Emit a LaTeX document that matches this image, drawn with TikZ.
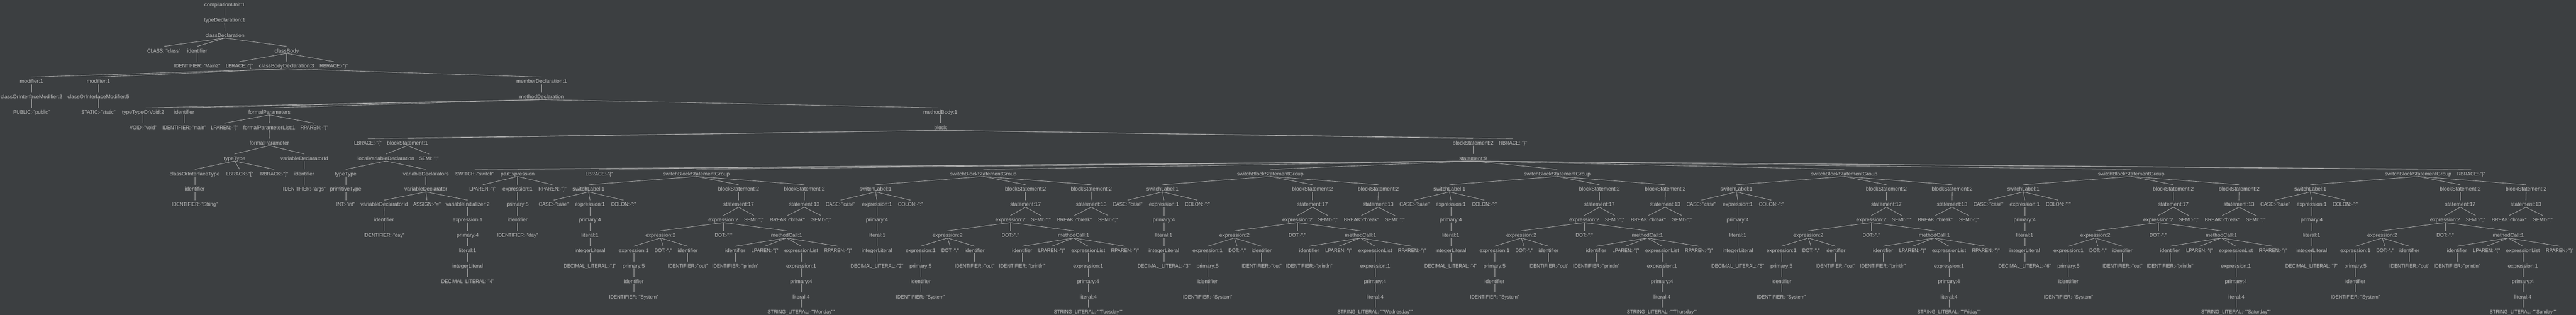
\documentclass[tikz,border=0pt]{standalone}
\usepackage{fontspec}
\setmainfont{Liberation Sans}
\newfontfamily\tokfont{Liberation Sans}[FakeStretch=0.91]
\definecolor{bgc}{HTML}{3C3F41}
\definecolor{labelc}{HTML}{BBBBBB}
\definecolor{linec}{HTML}{A9A9A9}
\begin{document}
\begin{tikzpicture}[x=1pt, y=-32pt, every edge/.style={draw=linec, line width=0.9pt},
        tok/.style={font=\fontsize{11}{13}\tokfont}]
            \useasboundingbox (0,0) rectangle (5355,20.46875);
            \fill[bgc] (0,0) rectangle (5355,20.46875);
            \begin{scope}[every node/.style={font=\fontsize{11}{13}\selectfont, text=labelc, inner sep=0pt, text height=12.7pt, text depth=1.7pt, anchor=base, yshift=-13.3pt}]

                \node (cu) at (467,0) {compilationUnit:1};
                \node (td) at (467,1) {typeDeclaration:1};
                \node (cd) at (467.6,2) {classDeclaration};
                \node[tok] (cls) at (340.5,3) {CLASS:·"class"};
                \node (cid) at (410,3) {identifier};
                \node (cb) at (596,3) {classBody};
                \node[tok] (cidt) at (410,4) {IDENTIFIER:·"Main2"};
                \node[tok] (cbl) at (497.7,4) {LBRACE:·"\{"};
                \node (cbd) at (595.8,4) {classBodyDeclaration:3};
                \node[tok] (cbr) at (693.8,4) {RBRACE:·"\}"};
                \node (mo1) at (65.5,5) {modifier:1};
                \node (mo2) at (204.5,5) {modifier:1};
                \node (md) at (1126,5) {memberDeclaration:1};
                \node (cim1) at (65.5,6) {classOrInterfaceModifier:2};
                \node (cim2) at (204.5,6) {classOrInterfaceModifier:5};
                \node (mth) at (1126,6) {methodDeclaration};
                \node[tok] (pub) at (65.5,7) {PUBLIC:·"public"};
                \node[tok] (sta) at (204.5,7) {STATIC:·"static"};
                \node (tv) at (297.5,7) {typeTypeOrVoid:2};
                \node (mid) at (383,7) {identifier};
                \node (fps) at (560,7) {formalParameters};
                \node (mb) at (1954.9,7) {methodBody:1};
                \node[tok] (void) at (297.5,8) {VOID:·"void"};
                \node[tok] (midt) at (383,8) {IDENTIFIER:·"main"};
                \node[tok] (fpl) at (466.5,8) {LPAREN:·"("};
                \node (fpsl) at (559.7,8) {formalParameterList:1};
                \node[tok] (fpr) at (653.3,8) {RPAREN:·")"};
                \node (blk) at (1954.9,8) {block};
                \node (fp) at (560,9) {formalParameter};
                \node[tok] (bl) at (764.6,9) {LBRACE:·"\{"};
                \node (bs1) at (847,9) {blockStatement:1};
                \node (bs2) at (3062.2,9) {blockStatement:2};
                \node[tok] (br) at (3145.3,9) {RBRACE:·"\}"};
                \node (tt) at (487.5,10) {typeType};
                \node (vdi) at (632.6,10) {variableDeclaratorId};
                \node (lvd) at (802.3,10) {localVariableDeclaration};
                \node[tok] (semi) at (891.8,10) {SEMI:·";"};
                \node (sws) at (3062.2,10) {statement:9};
                \node (coit) at (404.8,11) {classOrInterfaceType};
                \node[tok] (lbk) at (498.4,11) {LBRACK:·"["};
                \node[tok] (rbk) at (570.1,11) {RBRACK:·"]"};
                \node (aid) at (632.6,11) {identifier};
                \node (tt2) at (718.6,11) {typeType};
                \node (vds) at (885.4,11) {variableDeclarators};
                \node[tok] (sw) at (987,11) {SWITCH:·"switch"};
                \node (pe) at (1076,11) {parExpression};
                \node[tok] (swl) at (1245.6,11) {LBRACE:·"\{"};
                \node[tok] (swr) at (5136.8,11) {RBRACE:·"\}"};
                \node (sid) at (404.8,12) {identifier};
                \node[tok] (aidt) at (632.6,12) {IDENTIFIER:·"args"};
                \node (pt) at (718.6,12) {primitiveType};
                \node (vd) at (885.4,12) {variableDeclarator};
                \node[tok] (pel) at (1003.7,12) {LPAREN:·"("};
                \node (pex) at (1076,12) {expression:1};
                \node[tok] (per) at (1148.4,12) {RPAREN:·")"};
                \node[tok] (sidt) at (404.8,13) {IDENTIFIER:·"String"};
                \node[tok] (int) at (718.6,13) {INT:·"int"};
                \node (vdid) at (798.7,13) {variableDeclaratorId};
                \node[tok] (asg) at (887.6,13) {ASSIGN:·"="};
                \node (vi) at (972.2,13) {variableInitializer:2};
                \node (pp5) at (1076,13) {primary:5};
                \node (did) at (798.3,14) {identifier};
                \node (vex) at (972.2,14) {expression:1};
                \node (pid) at (1076,14) {identifier};
                \node[tok] (didt) at (798.3,15) {IDENTIFIER:·"day"};
                \node (vp4) at (972.2,15) {primary:4};
                \node[tok] (pidt) at (1076,15) {IDENTIFIER:·"day"};
                \node (vl1) at (972.2,16) {literal:1};
                \node (vil) at (972.2,17) {integerLiteral};
                \node[tok] (vdl) at (972.2,18) {DECIMAL\_LITERAL:·"4"};

                % one switchBlockStatementGroup per day
                \foreach \g/\day in {1/Monday,2/Tuesday,3/Wednesday,4/Thursday,5/Friday,6/Saturday,7/Sunday}{
                    \pgfmathsetmacro\cx{1447.7+596.5*(\g-1)}
                    \begin{scope}[xshift=\cx pt]
                        \node (sg\g) at (0,11) {switchBlockStatementGroup};
                        \node (sl\g) at (-224,12) {switchLabel:1};
                        \node (ba\g) at (87.7,12) {blockStatement:2};
                        \node (bb\g) at (224.5,12) {blockStatement:2};
                        \node[tok] (cs\g) at (-296.8,13) {CASE:·"case"};
                        \node (ce\g) at (-221.2,13) {expression:1};
                        \node[tok] (co\g) at (-151.5,13) {COLON:·":"};
                        \node (sa\g) at (87.7,13) {statement:17};
                        \node (sb\g) at (224.2,13) {statement:13};
                        \node (cp\g) at (-221.2,14) {primary:4};
                        \node (ea\g) at (56.3,14) {expression:2};
                        \node[tok] (sm\g) at (119.4,14) {SEMI:·";"};
                        \node[tok] (bk\g) at (189.3,14) {BREAK:·"break"};
                        \node[tok] (sn\g) at (259.1,14) {SEMI:·";"};
                        \node (cl\g) at (-221.2,15) {literal:1};
                        \node (eb\g) at (-74.5,15) {expression:2};
                        \node[tok] (da\g) at (56.3,15) {DOT:·"."};
                        \node (mc\g) at (187.5,15) {methodCall:1};
                        \node (ci\g) at (-221.2,16) {integerLiteral};
                        \node (ec\g) at (-130.3,16) {expression:1};
                        \node[tok] (db\g) at (-69,16) {DOT:·"."};
                        \node (oi\g) at (-18.1,16) {identifier};
                        \node (pi\g) at (80.8,16) {identifier};
                        \node[tok] (lp\g) at (142.2,16) {LPAREN:·"("};
                        \node (el\g) at (217.9,16) {expressionList};
                        \node[tok] (rp\g) at (294.4,16) {RPAREN:·")"};
                        \node[tok] (dl\g) at (-221.2,17) {DECIMAL\_LITERAL:·"\g"};
                        \node (sp\g) at (-130.3,17) {primary:5};
                        \node[tok] (ot\g) at (-18.1,17) {IDENTIFIER:·"out"};
                        \node[tok] (pn\g) at (80.8,17) {IDENTIFIER:·"println"};
                        \node (ed\g) at (217.9,17) {expression:1};
                        \node (si\g) at (-130.3,18) {identifier};
                        \node (sq\g) at (217.9,18) {primary:4};
                        \node[tok] (sy\g) at (-130.3,19) {IDENTIFIER:·"System"};
                        \node (sr\g) at (217.9,19) {literal:4};
                        \node[tok] (lt\g) at (217.9,20) {STRING\_LITERAL:·""\day""};
                    \end{scope}
                }

            \end{scope}
            \path (cu.south) edge (td.north);
            \path (td.south) edge (cd.north);
            \path (cd.south) edge (cls.north);
            \path (cd.south) edge (cid.north);
            \path (cd.south) edge (cb.north);
            \path (cid.south) edge (cidt.north);
            \path (cb.south) edge (cbl.north);
            \path (cb.south) edge (cbd.north);
            \path (cb.south) edge (cbr.north);
            \path (cbd.south) edge (mo1.north);
            \path (cbd.south) edge (mo2.north);
            \path (cbd.south) edge (md.north);
            \path (mo1.south) edge (cim1.north);
            \path (cim1.south) edge (pub.north);
            \path (mo2.south) edge (cim2.north);
            \path (cim2.south) edge (sta.north);
            \path (md.south) edge (mth.north);
            \path (mth.south) edge (tv.north);
            \path (mth.south) edge (mid.north);
            \path (mth.south) edge (fps.north);
            \path (mth.south) edge (mb.north);
            \path (tv.south) edge (void.north);
            \path (mid.south) edge (midt.north);
            \path (fps.south) edge (fpl.north);
            \path (fps.south) edge (fpsl.north);
            \path (fps.south) edge (fpr.north);
            \path (fpsl.south) edge (fp.north);
            \path (fp.south) edge (tt.north);
            \path (fp.south) edge (vdi.north);
            \path (tt.south) edge (coit.north);
            \path (tt.south) edge (lbk.north);
            \path (tt.south) edge (rbk.north);
            \path (coit.south) edge (sid.north);
            \path (sid.south) edge (sidt.north);
            \path (vdi.south) edge (aid.north);
            \path (aid.south) edge (aidt.north);
            \path (mb.south) edge (blk.north);
            \path (blk.south) edge (bl.north);
            \path (blk.south) edge (bs1.north);
            \path (blk.south) edge (bs2.north);
            \path (blk.south) edge (br.north);
            \path (bs1.south) edge (lvd.north);
            \path (bs1.south) edge (semi.north);
            \path (lvd.south) edge (tt2.north);
            \path (lvd.south) edge (vds.north);
            \path (tt2.south) edge (pt.north);
            \path (pt.south) edge (int.north);
            \path (vds.south) edge (vd.north);
            \path (vd.south) edge (vdid.north);
            \path (vd.south) edge (asg.north);
            \path (vd.south) edge (vi.north);
            \path (vdid.south) edge (did.north);
            \path (did.south) edge (didt.north);
            \path (vi.south) edge (vex.north);
            \path (vex.south) edge (vp4.north);
            \path (vp4.south) edge (vl1.north);
            \path (vl1.south) edge (vil.north);
            \path (vil.south) edge (vdl.north);
            \path (bs2.south) edge (sws.north);
            \path (sws.south) edge (sw.north);
            \path (sws.south) edge (pe.north);
            \path (sws.south) edge (swl.north);
            \path (sws.south) edge (swr.north);
            \path (pe.south) edge (pel.north);
            \path (pe.south) edge (pex.north);
            \path (pe.south) edge (per.north);
            \path (pex.south) edge (pp5.north);
            \path (pp5.south) edge (pid.north);
            \path (pid.south) edge (pidt.north);

            % the seven case groups
            \foreach \g in {1,...,7}{
                \path (sws.south) edge (sg\g.north);
                \foreach \p/\c in {sg/sl, sg/ba, sg/bb, sl/cs, sl/ce, sl/co, ce/cp, cp/cl, cl/ci, ci/dl,
                                   ba/sa, bb/sb, sa/ea, sa/sm, sb/bk, sb/sn, ea/eb, ea/da, ea/mc,
                                   eb/ec, eb/db, eb/oi, ec/sp, sp/si, si/sy, oi/ot,
                                   mc/pi, mc/lp, mc/el, mc/rp, pi/pn, el/ed, ed/sq, sq/sr, sr/lt}
                    \path (\p\g.south) edge (\c\g.north);
            }

\end{tikzpicture}
\end{document}
